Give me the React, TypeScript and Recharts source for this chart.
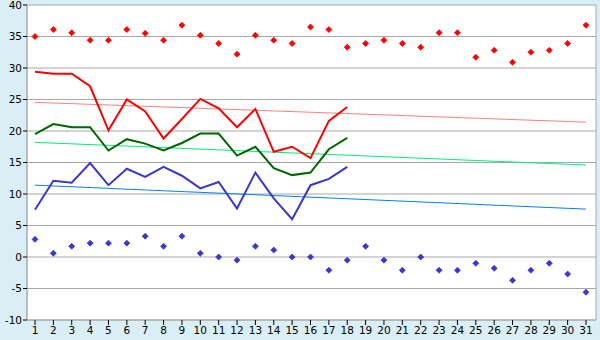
import React from 'react';
import {
    LineChart,
    Line,
    XAxis,
    YAxis,
    CartesianGrid,
} from 'recharts';

// day numbers along the x axis
const days = Array.from({ length: 31 }, (_, i) => i + 1);
const yTicks = [-10, -5, 0, 5, 10, 15, 20, 25, 30, 35, 40];

// red points (highs)
const highPoints = [
    35.0, 36.1, 35.6, 34.4, 34.4, 36.1, 35.5, 34.4, 36.8, 35.2,
    33.9, 32.2, 35.2, 34.4, 33.9, 36.5, 36.1, 33.3, 33.9, 34.4,
    33.9, 33.3, 35.6, 35.6, 31.7, 32.8, 30.9, 32.5, 32.8, 33.9, 36.8,
];
// blue points (lows)
const lowPoints = [
    2.8, 0.6, 1.7, 2.2, 2.2, 2.2, 3.3, 1.7, 3.3, 0.6,
    0.0, -0.5, 1.7, 1.1, 0.0, 0.0, -2.1, -0.5, 1.7, -0.5,
    -2.1, 0.0, -2.1, -2.1, -1.0, -1.8, -3.7, -2.1, -1.0, -2.7, -5.6,
];
// lines for the first 18 days
const redLine = [
    29.4, 29.1, 29.1, 27.1, 20.1, 25.0, 23.1, 18.8, 21.9, 25.1,
    23.6, 20.6, 23.5, 16.7, 17.5, 15.7, 21.6, 23.8,
];
const greenLine = [
    19.5, 21.1, 20.6, 20.6, 16.9, 18.7, 18.0, 16.9, 18.1, 19.6,
    19.6, 16.1, 17.5, 14.1, 13.0, 13.4, 17.1, 18.9,
];
const blueLine = [
    7.5, 12.1, 11.8, 14.9, 11.4, 14.0, 12.7, 14.3, 12.9, 10.9,
    11.9, 7.7, 13.4, 9.3, 6.0, 11.4, 12.4, 14.3,
];
// trend lines: value on day 1 and day 31
const redTrend = [24.55, 21.4];
const greenTrend = [18.2, 14.6];
const blueTrend = [11.4, 7.6];

const data = days.map((d, i) => ({
    day: d,
    high: highPoints[i],
    low: lowPoints[i],
    red: redLine[i] ?? null,
    green: greenLine[i] ?? null,
    blue: blueLine[i] ?? null,
    redTrend: i === 0 ? redTrend[0] : i === days.length - 1 ? redTrend[1] : null,
    greenTrend: i === 0 ? greenTrend[0] : i === days.length - 1 ? greenTrend[1] : null,
    blueTrend: i === 0 ? blueTrend[0] : i === days.length - 1 ? blueTrend[1] : null,
}));

const makeDiamond = (color: string) => (props: any) => {
    const { cx, cy, index } = props;
    if (cx == null || cy == null || props.value == null) return <g key={index} />;
    const r = 3;
    return (
        <path
            key={index}
            d={`M${cx},${cy - r}L${cx + r},${cy}L${cx},${cy + r}L${cx - r},${cy}Z`}
            fill={color}
            stroke={color}
            strokeWidth={0.8}
        />
    );
};

const axisColor = '#a8a8a8';
const tickStyle = { fontSize: 10.5, fill: '#000', fontFamily: 'DejaVu Sans' };

export default function App() {
    return (
        <div style={{ position: 'absolute', left: 0, top: 0, width: 600, height: 340, background: '#d9eef5' }}>
            <LineChart
                width={600}
                height={340}
                data={data}
                margin={{ top: 5, right: 4, left: 0, bottom: 0 }}
            >
                <CartesianGrid
                    fill="#ffffff"
                    stroke={axisColor}
                    strokeWidth={1}
                    verticalCoordinatesGenerator={(p: any) => [p.offset.left, p.offset.left + p.offset.width]}
                />
                <XAxis
                    dataKey="day"
                    type="number"
                    domain={[1, 31]}
                    ticks={days}
                    interval={0}
                    padding={{ left: 8, right: 10 }}
                    height={20}
                    tickSize={5}
                    stroke={axisColor}
                    tick={tickStyle}
                    tickLine={{ stroke: '#000' }}
                />
                <YAxis
                    type="number"
                    domain={[-10, 40]}
                    ticks={yTicks}
                    interval={0}
                    width={27}
                    tickSize={4}
                    tickMargin={1}
                    stroke={axisColor}
                    tick={tickStyle}
                    tickLine={{ stroke: '#000' }}
                />
                <Line dataKey="redTrend" stroke="#ff8080" strokeWidth={1} dot={false} connectNulls isAnimationActive={false} />
                <Line dataKey="greenTrend" stroke="#00ee77" strokeWidth={1} dot={false} connectNulls isAnimationActive={false} />
                <Line dataKey="blueTrend" stroke="#0080ff" strokeWidth={1} dot={false} connectNulls isAnimationActive={false} />
                <Line dataKey="blue" stroke="#3838cc" strokeWidth={2} dot={false} isAnimationActive={false} />
                <Line dataKey="green" stroke="#006600" strokeWidth={2} dot={false} isAnimationActive={false} />
                <Line dataKey="red" stroke="#ff0000" strokeWidth={2} dot={false} isAnimationActive={false} />
                <Line dataKey="high" stroke="none" dot={makeDiamond('#ff0000')} activeDot={false} isAnimationActive={false} />
                <Line dataKey="low" stroke="none" dot={makeDiamond('#3838cc')} activeDot={false} isAnimationActive={false} />
            </LineChart>
        </div>
    );
}
